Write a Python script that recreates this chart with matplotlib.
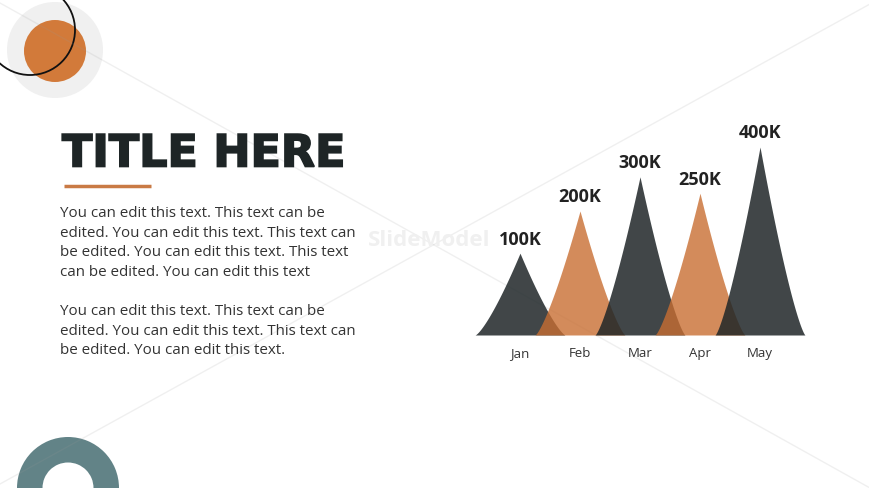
import numpy as np
import matplotlib
matplotlib.use('Agg')
import matplotlib.pyplot as plt
import matplotlib.patheffects as pe
from matplotlib.patches import Circle, Wedge

# chart data
months = ['Jan', 'Feb', 'Mar', 'Apr', 'May']
sales = [100, 200, 300, 250, 400]          # thousands
sales_labels = ['100K', '200K', '300K', '250K', '400K']
peak_colors = ['#1f2628', '#c86e32', '#1f2628', '#c86e32', '#1f2628']
peak_alpha = [0.85, 0.8, 0.85, 0.8, 0.85]

title = 'TITLE HERE'
para1 = ('You can edit this text. This text can be\n'
         'edited. You can edit this text. This text can\n'
         'be edited. You can edit this text. This text\n'
         'can be edited. You can edit this text')
para2 = ('You can edit this text. This text can be\n'
         'edited. You can edit this text. This text can\n'
         'be edited. You can edit this text.')

W, H = 870, 489
fig = plt.figure(figsize=(W / 100, H / 100), dpi=100)
fig.patch.set_facecolor('white')

# background / decoration layer in pixel coordinates
bg = fig.add_axes([0, 0, 1, 1])
bg.set_xlim(0, W)
bg.set_ylim(H, 0)
bg.axis('off')

# top-left circles
bg.add_patch(Circle((55, 51), 48, color='#f0f0f0', lw=0))
bg.add_patch(Circle((55, 52), 31, color='#d27a3a', lw=0))
bg.add_patch(Circle((30, 31), 45, fill=False, ec='#111111', lw=1.3))

# bottom-left teal ring
bg.add_patch(Wedge((68, 489), 51, 0, 360, width=25.5, color='#628387', lw=0))

# faint diagonal lines
bg.plot([0, W], [4, 489], color='#9a9a9a', alpha=0.15, lw=1)
bg.plot([0, W], [485, 5], color='#9a9a9a', alpha=0.15, lw=1)

# watermark
bg.text(368, 240, 'SlideModel', fontsize=16, fontweight='bold', color='#f0f0f0',
        family='Open Sans', ha='left', va='center')

# title and underline
bg.text(62, 155, title, fontsize=32, fontweight='heavy', color='#1e2526',
        family='DejaVu Sans', ha='left', va='center',
        path_effects=[pe.withStroke(linewidth=1.2, foreground='#1e2526',
                                    joinstyle='miter')])
bg.plot([64, 151], [187, 187], color='#c97a45', lw=2.5, solid_capstyle='butt')

# paragraphs
bg.text(60, 206, para1, fontsize=10.9, color='#333333', family='Open Sans',
        ha='left', va='top', linespacing=1.42)
bg.text(60, 304, para2, fontsize=10.9, color='#333333', family='Open Sans',
        ha='left', va='top', linespacing=1.42)

# chart axes
x0, x1, yb, yt = 475, 805, 336, 148
ax = fig.add_axes([x0 / W, 1 - yb / H, (x1 - x0) / W, (yb - yt) / H])
ax.patch.set_alpha(0)

def fwd(y):
    y = np.asarray(y, dtype=float)
    return np.sign(y) * np.abs(y) ** 0.6

def inv(y):
    y = np.asarray(y, dtype=float)
    return np.sign(y) * np.abs(y) ** (1 / 0.6)

ax.set_yscale('function', functions=(fwd, inv))
ax.set_xlim(-0.75, 4.75)
ax.set_ylim(0, 400)

half = 0.75
u = np.linspace(-1, 1, 301)
for i, (v, c, a) in enumerate(zip(sales, peak_colors, peak_alpha)):
    xs = i + half * u
    ys = inv(fwd(v) * (1 - np.abs(u)) ** 1.3)
    ax.fill_between(xs, 0, ys, color=c, alpha=a, lw=0)
    ax.annotate(sales_labels[i], (i, v), xytext=(0, 4), textcoords='offset points',
                ha='center', va='bottom', fontsize=13, fontweight='bold',
                color='#222222', family='Open Sans')

ax.set_xticks(range(len(months)))
ax.set_xticklabels(months, fontsize=9.5, color='#333333', family='Open Sans')
ax.tick_params(axis='x', length=0, pad=8)
ax.set_yticks([])
for s in ax.spines.values():
    s.set_visible(False)

fig.savefig('out.png', dpi=100, facecolor='white')
